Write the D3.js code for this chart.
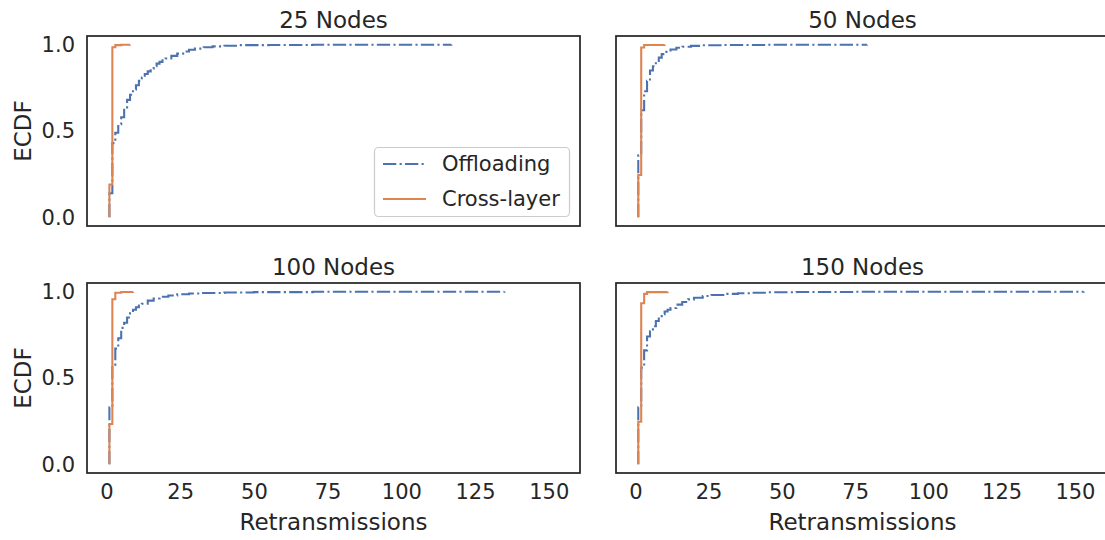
<!DOCTYPE html>
<html>
<head>
<meta charset="utf-8">
<script src="https://cdn.jsdelivr.net/npm/d3@7"></script>
<style>
  html, body { margin: 0; padding: 0; background: #fff; }
  svg { display: block; }
</style>
</head>
<body>
<svg id="chart" width="1105" height="540"></svg>
<script>
// ---------------- DATA ----------------
const panelTitles = ["25 Nodes", "50 Nodes", "100 Nodes", "150 Nodes"];
const seriesNames = ["Offloading", "Cross-layer"];
const xTicks = [0, 25, 50, 75, 100, 125, 150];
const yTicks = [0.0, 0.5, 1.0];

// ECDF steps: retransmission values and cumulative share at each value
const off25X = [1, 2, 3, 4, 5, 6, 7, 8, 9, 10, 11, 12, 13, 14, 15, 16, 17, 18, 19, 20, 22, 24, 26, 28, 30, 33, 36, 40, 45, 55, 70, 117];
const off25Y = [0.14, 0.43, 0.49, 0.54, 0.58, 0.63, 0.68, 0.71, 0.74, 0.765, 0.79, 0.81, 0.83, 0.845, 0.86, 0.875, 0.89, 0.90, 0.91, 0.92, 0.935, 0.948, 0.96, 0.97, 0.977, 0.985, 0.99, 0.994, 0.997, 0.998, 0.999, 1.0];
const cross25X = [1, 2, 3, 5, 8];
const cross25Y = [0.19, 0.985, 0.997, 0.999, 1.0];

const off50X = [1, 2, 3, 4, 5, 6, 7, 8, 9, 10, 12, 14, 16, 19, 23, 30, 45, 79];
const off50Y = [0.36, 0.62, 0.73, 0.79, 0.85, 0.875, 0.90, 0.925, 0.945, 0.958, 0.972, 0.982, 0.988, 0.993, 0.996, 0.998, 0.999, 1.0];
const cross50X = [1, 2, 3, 10];
const cross50Y = [0.245, 0.983, 0.998, 1.0];

const off100X = [1, 2, 3, 4, 5, 6, 7, 8, 9, 10, 11, 12, 14, 16, 18, 21, 24, 28, 32, 40, 50, 70, 135];
const off100Y = [0.33, 0.57, 0.67, 0.73, 0.79, 0.82, 0.85, 0.875, 0.895, 0.91, 0.92, 0.93, 0.948, 0.96, 0.97, 0.978, 0.985, 0.989, 0.992, 0.995, 0.997, 0.999, 1.0];
const cross100X = [1, 2, 3, 5, 9];
const cross100Y = [0.234, 0.956, 0.994, 0.998, 1.0];

const off150X = [1, 2, 3, 4, 5, 6, 7, 8, 9, 10, 11, 12, 14, 16, 18, 20, 23, 26, 30, 35, 40, 45, 55, 75, 153];
const off150Y = [0.33, 0.56, 0.66, 0.74, 0.77, 0.80, 0.83, 0.85, 0.87, 0.885, 0.895, 0.905, 0.925, 0.94, 0.955, 0.965, 0.975, 0.981, 0.987, 0.991, 0.994, 0.996, 0.998, 0.999, 1.0];
const cross150X = [1, 2, 3, 4, 11];
const cross150Y = [0.247, 0.933, 0.987, 0.997, 1.0];

const offX = [off25X, off50X, off100X, off150X];
const offY = [off25Y, off50Y, off100Y, off150Y];
const crossX = [cross25X, cross50X, cross100X, cross150X];
const crossY = [cross25Y, cross50Y, cross100Y, cross150Y];

// ---------------- STYLE / LAYOUT ----------------
const colors = ["#4C72B0", "#DD8452"];
const textColor = "#262626";
const font = "'DejaVu Sans', sans-serif";
const panelW = 493;
const panels = [
  {x0: 87,  x1: 580,  y0: 36,  y1: 226, left: true,  bottom: false},
  {x0: 616, x1: 1106, y0: 36,  y1: 226, left: false, bottom: false},
  {x0: 87,  x1: 580,  y0: 283, y1: 473, left: true,  bottom: true},
  {x0: 616, x1: 1106, y0: 283, y1: 473, left: false, bottom: true}
];

const svg = d3.select("#chart");

// shared x domain (matplotlib-like 5% margins over all data)
const allX = [].concat(...offX, ...crossX);
const xmin = d3.min(allX), xmax = d3.max(allX);
const xpad = (xmax - xmin) * 0.05;
const xDomain = [xmin - xpad, xmax + xpad];
const yDomain = [-0.05, 1.05];

panels.forEach((p, i) => {
  const x = d3.scaleLinear().domain(xDomain).range([p.x0, p.x1]);
  const y = d3.scaleLinear().domain(yDomain).range([p.y1, p.y0]);
  const g = svg.append("g");
  const cx = p.x0 + panelW / 2;

  // series
  const line = d3.line().x(d => x(d[0])).y(d => y(d[1])).curve(d3.curveStepAfter);
  const mk = (xs, ys) => [[xs[0], 0]].concat(xs.map((v, k) => [v, ys[k]]));

  g.append("path")
    .attr("d", line(mk(offX[i], offY[i])))
    .attr("fill", "none")
    .attr("stroke", colors[0])
    .attr("stroke-width", 2.08)
    .attr("stroke-dasharray", "13.3,3.3,2.1,3.3");
  g.append("path")
    .attr("d", line(mk(crossX[i], crossY[i])))
    .attr("fill", "none")
    .attr("stroke", colors[1])
    .attr("stroke-width", 2.08);

  // frame
  g.append("rect")
    .attr("x", p.x0).attr("y", p.y0)
    .attr("width", p.x1 - p.x0).attr("height", p.y1 - p.y0)
    .attr("fill", "none").attr("stroke", textColor).attr("stroke-width", 1.74);

  // title
  g.append("text")
    .attr("x", cx)
    .attr("y", p.y0 - 8.5)
    .attr("text-anchor", "middle")
    .attr("fill", textColor)
    .style("font-family", font).style("font-size", "23px")
    .text(panelTitles[i]);

  // y axis
  if (p.left) {
    const ya = d3.axisLeft(y).tickValues(yTicks).tickSize(0).tickPadding(12).tickFormat(d3.format(".1f"));
    const ag = g.append("g").attr("transform", `translate(${p.x0},0)`).call(ya);
    ag.select(".domain").remove();
    ag.selectAll("text").attr("fill", textColor).style("font-family", font).style("font-size", "21px");
    g.append("text")
      .attr("transform", `translate(31,${(p.y0 + p.y1) / 2}) rotate(-90)`)
      .attr("text-anchor", "middle")
      .attr("fill", textColor)
      .style("font-family", font).style("font-size", "23px")
      .text("ECDF");
  }
  // x axis
  if (p.bottom) {
    const xa = d3.axisBottom(x).tickValues(xTicks).tickSize(0).tickPadding(11).tickFormat(d3.format("d"));
    const ag = g.append("g").attr("transform", `translate(0,${p.y1})`).call(xa);
    ag.select(".domain").remove();
    ag.selectAll("text").attr("fill", textColor).style("font-family", font).style("font-size", "21px");
    g.append("text")
      .attr("x", cx)
      .attr("y", 530)
      .attr("text-anchor", "middle")
      .attr("fill", textColor)
      .style("font-family", font).style("font-size", "23px")
      .text("Retransmissions");
  }

  // legend in first panel
  if (i === 0) {
    const lg = svg.append("g");
    lg.append("rect")
      .attr("x", 374.5).attr("y", 147.5).attr("width", 195).attr("height", 69)
      .attr("rx", 4).attr("ry", 4)
      .attr("fill", "#fff").attr("fill-opacity", 0.8)
      .attr("stroke", "#cccccc").attr("stroke-width", 1.2);
    seriesNames.forEach((name, k) => {
      const cy = 164 + k * 35;
      const ln = lg.append("line")
        .attr("x1", 383).attr("x2", 426).attr("y1", cy).attr("y2", cy)
        .attr("stroke", colors[k]).attr("stroke-width", 2.08);
      if (k === 0) ln.attr("stroke-dasharray", "13.3,3.3,2.1,3.3");
      lg.append("text")
        .attr("x", 442).attr("y", cy).attr("dy", "0.35em")
        .attr("fill", textColor)
        .style("font-family", font).style("font-size", "21px")
        .text(name);
    });
  }
});
</script>
</body>
</html>
